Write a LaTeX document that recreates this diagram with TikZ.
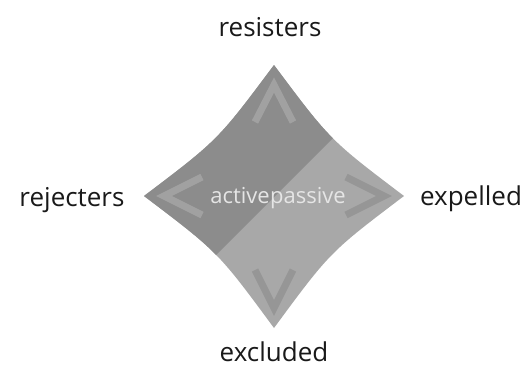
\documentclass[tikz,border=0pt]{standalone}
\usepackage{fontspec}
\setmainfont{Open Sans}
\usepackage{tikz}
\usetikzlibrary{positioning}

\definecolor{darkside}{gray}{0.55}
\definecolor{lightside}{gray}{0.66}
\definecolor{chevup}{gray}{0.63}
\definecolor{chevdown}{gray}{0.59}

\begin{document}
\begin{tikzpicture}[x=1pt,y=-1pt,
    outer/.style={text=black!90, font=\fontsize{26}{30}\selectfont, inner sep=0pt},
    inner/.style={text=black!10, font=\fontsize{22}{26}\selectfont, inner sep=0pt},
    chev/.style={line width=7pt}]
    \useasboundingbox (0,0) rectangle (530,368);
    % ---- corners ----
    \coordinate (n) at (274,65);
    \coordinate (e) at (404,196);
    \coordinate (s) at (274,328);
    \coordinate (w) at (144,196);
    % ---- star ----
    \begin{scope}
      \clip (n) .. controls (218,140) .. (w) .. controls (218,252) .. (s)
            .. controls (330,252) .. (e) .. controls (330,140) .. (n) -- cycle;
      \fill[lightside] (0,0) rectangle (530,368);
      \fill[darkside] (0,0) -- (471,0) -- (0,471) -- cycle;
      \draw[chev, chevup] (255,122) -- (274,85) -- (293,122);
      \draw[chev, chevup] (202,177) -- (164,196) -- (202,215);
      \draw[chev, chevdown] (346,177) -- (384,196) -- (346,215);
      \draw[chev, chevdown] (255,270) -- (274,308) -- (293,270);
    \end{scope}
    % ---- labels ----
    \node[outer, anchor=base] (resisters) at (270,36) {resisters};
    \node[outer, anchor=base] (rejecters) at (72,206) {rejecters};
    \node[outer, anchor=base] (expelled) at (471,205) {expelled};
    \node[outer, anchor=base] (excluded) at (274,361) {excluded};
    \node[inner, anchor=base east] (active) at (270,203) {active};
    \node[inner, anchor=base west] (passive) at (active.base east) {passive};
  \end{tikzpicture}
\end{document}
